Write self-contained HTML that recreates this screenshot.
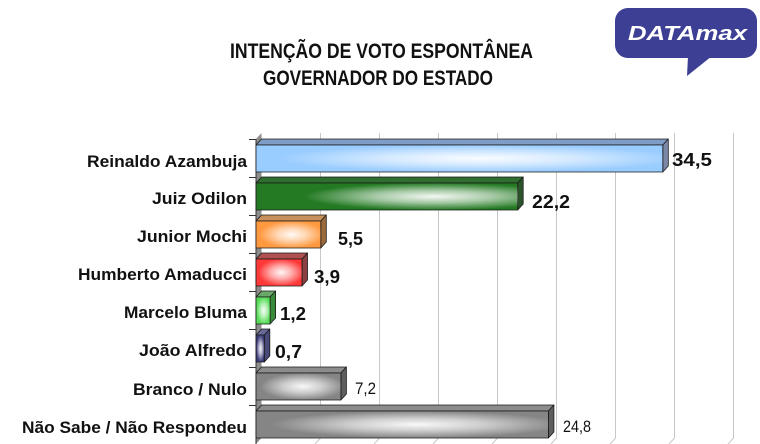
<!DOCTYPE html>
<html><head><meta charset="utf-8"><style>
html,body{margin:0;padding:0;background:#fff;}
svg{display:block;}
</style></head><body>
<svg width="760" height="444" viewBox="0 0 760 444" xmlns="http://www.w3.org/2000/svg" font-family="Liberation Sans, Arial, sans-serif">
<defs>
<radialGradient id="hl" cx="0.55" cy="0.5" r="0.5">
<stop offset="0" stop-color="#fff" stop-opacity="0.95"/>
<stop offset="0.45" stop-color="#fff" stop-opacity="0.6"/>
<stop offset="1" stop-color="#fff" stop-opacity="0"/>
</radialGradient>
<radialGradient id="hl2" cx="0.68" cy="0.5" r="0.5">
<stop offset="0" stop-color="#fff" stop-opacity="0.95"/>
<stop offset="0.45" stop-color="#fff" stop-opacity="0.6"/>
<stop offset="1" stop-color="#fff" stop-opacity="0"/>
</radialGradient>
</defs>
<rect width="760" height="444" fill="#fff"/>

<!-- Logo -->
<rect x="615" y="8" width="142" height="50" rx="13" fill="#3c3f94"/>
<polygon points="688,56 712,56 687,76" fill="#3c3f94"/>
<text x="628" y="40" font-size="20" font-weight="bold" font-style="italic" fill="#fff" textLength="119" lengthAdjust="spacingAndGlyphs">DATAmax</text>

<!-- Title -->
<text x="230" y="58" font-size="21" font-weight="bold" fill="#111" textLength="303" lengthAdjust="spacingAndGlyphs">INTENÇÃO DE VOTO ESPONTÂNEA</text>
<text x="263" y="85" font-size="21" font-weight="bold" fill="#111" textLength="230" lengthAdjust="spacingAndGlyphs">GOVERNADOR DO ESTADO</text>

<!-- gridlines -->
<g stroke="#c8c8c8" stroke-width="1" fill="none">
<polyline points="320.5,133 320.5,438 315,444"/>
<polyline points="379.5,133 379.5,438 374,444"/>
<polyline points="438.5,133 438.5,438 433,444"/>
<polyline points="497.5,133 497.5,438 492,444"/>
<polyline points="556.5,133 556.5,438 551,444"/>
<polyline points="615.5,133 615.5,438 610,444"/>
<polyline points="674.5,133 674.5,438 669,444"/>
<polyline points="733.5,133 733.5,438 728,444"/>
</g>

<!-- left wall -->
<polygon points="256,139 261.5,133 261.5,438 256,444" fill="#8c8c8c"/>
<line x1="256" y1="139" x2="256" y2="444" stroke="#333" stroke-width="1"/>
<g stroke="#333" stroke-width="1">
<line x1="249" y1="139.5" x2="256" y2="139.5"/>
<line x1="249" y1="177.5" x2="256" y2="177.5"/>
<line x1="249" y1="215.5" x2="256" y2="215.5"/>
<line x1="249" y1="253.5" x2="256" y2="253.5"/>
<line x1="249" y1="291.5" x2="256" y2="291.5"/>
<line x1="249" y1="329.5" x2="256" y2="329.5"/>
<line x1="249" y1="367.5" x2="256" y2="367.5"/>
<line x1="249" y1="405.5" x2="256" y2="405.5"/>
</g>

<!-- Bars -->
<g stroke="#1a1a1a" stroke-width="0.8" stroke-linejoin="round">
<!-- 1 blue -->
<polygon points="256,145 261.5,139 668.3,139 662.8,145" fill="#7e9cc6"/>
<polygon points="662.8,145 668.3,139 668.3,166 662.8,172" fill="#7b88a8"/>
<rect x="256" y="145" width="406.8" height="27" fill="#99ccff"/>
<rect x="256" y="145" width="406.8" height="27" fill="url(#hl)" stroke="none"/>
<!-- 2 green -->
<polygon points="256,183 261.5,177 523.2,177 517.7,183" fill="#2f6e2f"/>
<polygon points="517.7,183 523.2,177 523.2,204 517.7,210" fill="#2c552c"/>
<rect x="256" y="183" width="261.7" height="27" fill="#237a23"/>
<rect x="256" y="183" width="261.7" height="27" fill="url(#hl2)" stroke="none"/>
<!-- 3 orange -->
<polygon points="256,221 261.5,215 326.3,215 320.8,221" fill="#c8905a"/>
<polygon points="320.8,221 326.3,215 326.3,242 320.8,248" fill="#9a6a3a"/>
<rect x="256" y="221" width="64.8" height="27" fill="#ff9940"/>
<rect x="256" y="221" width="64.8" height="27" fill="url(#hl)" stroke="none"/>
<!-- 4 red -->
<polygon points="256,259 261.5,253 307.5,253 302,259" fill="#b05050"/>
<polygon points="302,259 307.5,253 307.5,280 302,286" fill="#8a4040"/>
<rect x="256" y="259" width="46" height="27" fill="#ff3838"/>
<rect x="256" y="259" width="46" height="27" fill="url(#hl)" stroke="none"/>
<!-- 5 lime -->
<polygon points="256,297 261.5,291 275.6,291 270.1,297" fill="#6aa86a"/>
<polygon points="270.1,297 275.6,291 275.6,318 270.1,324" fill="#3a8a3a"/>
<rect x="256" y="297" width="14.1" height="27" fill="#55dd55"/>
<rect x="256" y="297" width="14.1" height="27" fill="url(#hl)" stroke="none"/>
<!-- 6 navy -->
<polygon points="256,335 261.5,329 269.8,329 264.3,335" fill="#6a6a9a"/>
<polygon points="264.3,335 269.8,329 269.8,356 264.3,362" fill="#4a4a7a"/>
<rect x="256" y="335" width="8.3" height="27" fill="#3a3a7a"/>
<rect x="256" y="335" width="8.3" height="27" fill="url(#hl)" stroke="none"/>
<!-- 7 gray -->
<polygon points="256,373 261.5,367 346.4,367 340.9,373" fill="#8c8c8c"/>
<polygon points="340.9,373 346.4,367 346.4,394 340.9,400" fill="#5e5e5e"/>
<rect x="256" y="373" width="84.9" height="27" fill="#858585"/>
<rect x="256" y="373" width="84.9" height="27" fill="url(#hl)" stroke="none"/>
<!-- 8 gray -->
<polygon points="256,411 261.5,405 553.9,405 548.4,411" fill="#8c8c8c"/>
<polygon points="548.4,411 553.9,405 553.9,432 548.4,438" fill="#5e5e5e"/>
<rect x="256" y="411" width="292.4" height="27" fill="#858585"/>
<rect x="256" y="411" width="292.4" height="27" fill="url(#hl)" stroke="none"/>
</g>

<!-- Category labels -->
<g font-size="17" font-weight="bold" fill="#111">
<text x="87" y="167" textLength="160" lengthAdjust="spacingAndGlyphs">Reinaldo Azambuja</text>
<text x="152" y="204" textLength="95" lengthAdjust="spacingAndGlyphs">Juiz Odilon</text>
<text x="137" y="242" textLength="110" lengthAdjust="spacingAndGlyphs">Junior Mochi</text>
<text x="78" y="280" textLength="169" lengthAdjust="spacingAndGlyphs">Humberto Amaducci</text>
<text x="124" y="318" textLength="123" lengthAdjust="spacingAndGlyphs">Marcelo Bluma</text>
<text x="139" y="356" textLength="108" lengthAdjust="spacingAndGlyphs">João Alfredo</text>
<text x="133" y="395" textLength="114" lengthAdjust="spacingAndGlyphs">Branco / Nulo</text>
<text x="22" y="433" textLength="225" lengthAdjust="spacingAndGlyphs">Não Sabe / Não Respondeu</text>
</g>

<!-- Value labels -->
<g font-size="18" font-weight="bold" fill="#111">
<text x="672" y="166" textLength="40" lengthAdjust="spacingAndGlyphs">34,5</text>
<text x="532" y="208" textLength="38" lengthAdjust="spacingAndGlyphs">22,2</text>
<text x="338" y="245" textLength="25" lengthAdjust="spacingAndGlyphs">5,5</text>
<text x="314" y="283" textLength="26" lengthAdjust="spacingAndGlyphs">3,9</text>
<text x="280" y="320" textLength="26" lengthAdjust="spacingAndGlyphs">1,2</text>
<text x="275" y="358" textLength="27" lengthAdjust="spacingAndGlyphs">0,7</text>
</g>
<g font-size="17" fill="#111">
<text x="355" y="394" textLength="21" lengthAdjust="spacingAndGlyphs">7,2</text>
<text x="563" y="432" textLength="28" lengthAdjust="spacingAndGlyphs">24,8</text>
</g>
</svg>
</body></html>
